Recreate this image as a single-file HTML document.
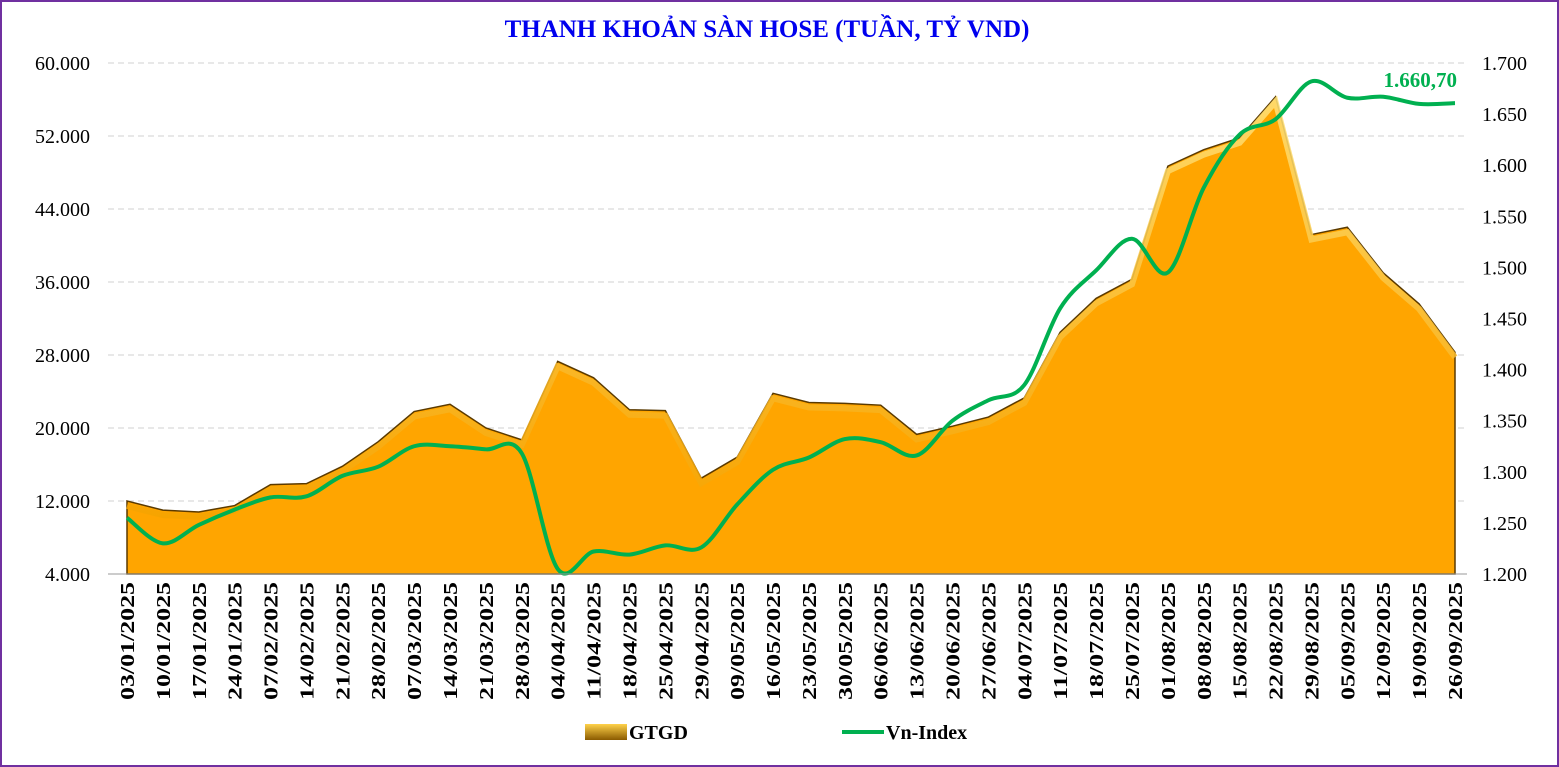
<!DOCTYPE html>
<html><head><meta charset="utf-8"><style>
body{margin:0;background:#fff;}
svg{display:block;font-family:"Liberation Serif",serif;}
</style></head><body>
<svg id="chart" width="1559" height="767">
<defs>
<linearGradient id="edge" x1="0" y1="0" x2="0" y2="1"><stop offset="0" stop-color="#ffe27a"/><stop offset="1" stop-color="#f5a300"/></linearGradient>
<linearGradient id="leg" x1="0" y1="0" x2="0" y2="1"><stop offset="0" stop-color="#ffd24a"/><stop offset="1" stop-color="#8a5a00"/></linearGradient>
</defs>
<rect x="1" y="1" width="1557" height="765" fill="#fff" stroke="#7030a0" stroke-width="2"/>
<text x="767" y="37" text-anchor="middle" font-size="25" font-weight="bold" fill="#0000ee">THANH KHOẢN SÀN HOSE (TUẦN, TỶ VND)</text>
<g id="grid"></g><g id="area"></g><g id="line"></g><g id="axes"></g>
<g>
<rect x="585" y="724" width="42" height="16" fill="url(#leg)"/>
<text x="629" y="739" font-size="20" font-weight="bold">GTGD</text>
<line x1="842" y1="732" x2="884" y2="732" stroke="#00b050" stroke-width="4"/>
<text x="886" y="739" font-size="20" font-weight="bold">Vn-Index</text>
</g>
</svg>
<script>
const categories=["03/01/2025","10/01/2025","17/01/2025","24/01/2025","07/02/2025","14/02/2025","21/02/2025","28/02/2025","07/03/2025","14/03/2025","21/03/2025","28/03/2025","04/04/2025","11/04/2025","18/04/2025","25/04/2025","29/04/2025","09/05/2025","16/05/2025","23/05/2025","30/05/2025","06/06/2025","13/06/2025","20/06/2025","27/06/2025","04/07/2025","11/07/2025","18/07/2025","25/07/2025","01/08/2025","08/08/2025","15/08/2025","22/08/2025","29/08/2025","05/09/2025","12/09/2025","19/09/2025","26/09/2025"];
const gtgd=[12000,11000,10800,11500,13800,13900,15800,18500,21800,22600,20000,18700,27300,25500,22000,21900,14500,16800,23800,22800,22700,22500,19300,20200,21200,23300,30500,34200,36300,48700,50500,51800,56300,41200,42000,37000,33600,28300];
const vnindex=[1255,1230,1248,1263,1275,1276,1296,1305,1325,1325,1322,1318,1205,1222,1219,1228,1226,1268,1302,1314,1332,1329,1316,1350,1370,1385,1460,1497,1528,1495,1578,1630,1645,1682,1666,1667,1660,1660.7];
const leftTicks=["4.000","12.000","20.000","28.000","36.000","44.000","52.000","60.000"];
const rightTicks=["1.200","1.250","1.300","1.350","1.400","1.450","1.500","1.550","1.600","1.650","1.700"];
const lastLabel="1.660,70";
const NS="http://www.w3.org/2000/svg";
const X0=127,X1=1455,YT=63,YB=574;
const x=i=>X0+(X1-X0)*i/(categories.length-1);
const yl=v=>YB-(v-4000)/(60000-4000)*(YB-YT);
const yr=v=>YB-(v-1200)/(1700-1200)*(YB-YT);
function mk(t,a,p){const e=document.createElementNS(NS,t);for(const k in a)e.setAttribute(k,a[k]);p.appendChild(e);return e;}
const grid=document.getElementById('grid'),axes=document.getElementById('axes');
leftTicks.forEach((t,i)=>{const v=4000+i*8000;const yy=yl(v);
 if(i>0){const g=mk('line',{x1:108,x2:1467,y1:yy,y2:yy,stroke:'#d0d0d0','stroke-dasharray':'6,4'},grid);
 }
 const tx=mk('text',{x:90,y:yy+7,'text-anchor':'end','font-size':20},axes);tx.textContent=t;
 });
rightTicks.forEach((t,i)=>{const yy=yr(1200+i*50);
 const tx=mk('text',{x:1482,y:yy+7,'font-size':20},axes);tx.textContent=t;
 });
const ax=mk('line',{x1:108,x2:1467,y1:YB,y2:YB,stroke:'#999'},axes);

categories.forEach((c,i)=>{const tx=mk('text',{transform:`translate(${x(i)+7},${YB+8}) rotate(-90)`,'text-anchor':'end','font-size':20,'font-weight':'bold',textLength:118,lengthAdjust:'spacingAndGlyphs'},axes);tx.textContent=c;
 });
let d=`M${x(0)},${YB}`;gtgd.forEach((v,i)=>d+=` L${x(i)},${yl(v)}`);d+=` L${x(gtgd.length-1)},${YB}Z`;
const ar=mk('path',{d:d,fill:'#ffa500',stroke:'#5a3a00','stroke-width':1.5},document.getElementById('area'));

let e='';gtgd.forEach((v,i)=>e+=(i?' L':'M')+x(i)+','+(yl(v)+5));
const ed=mk('path',{d:e,fill:'none',stroke:'url(#edge)','stroke-width':6,opacity:0.85},document.getElementById('area'));

const P=vnindex.map((v,i)=>[x(i),yr(v)]);
let s=`M${P[0][0]},${P[0][1]}`;
for(let i=0;i<P.length-1;i++){const p0=P[Math.max(0,i-1)],p1=P[i],p2=P[i+1],p3=P[Math.min(P.length-1,i+2)];
 s+=` C${p1[0]+(p2[0]-p0[0])/6},${p1[1]+(p2[1]-p0[1])/6} ${p2[0]-(p3[0]-p1[0])/6},${p2[1]-(p3[1]-p1[1])/6} ${p2[0]},${p2[1]}`;}
const ln=mk('path',{d:s,fill:'none',stroke:'#00b050','stroke-width':4},document.getElementById('line'));

const lb=mk('text',{x:x(vnindex.length-1)+2,y:yr(vnindex[vnindex.length-1])-16,'text-anchor':'end','font-size':21,'font-weight':'bold',fill:'#00b050'},document.getElementById('line'));
lb.textContent=lastLabel;

</script>
</body></html>
